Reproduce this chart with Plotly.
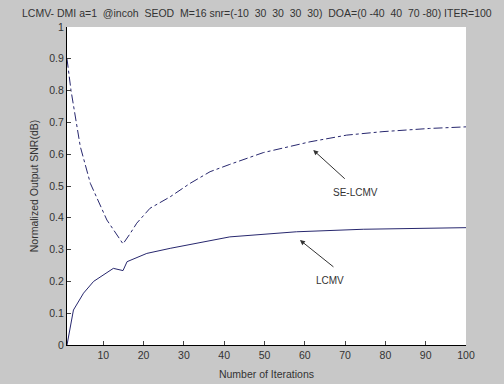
import plotly.graph_objects as go

# SE-LCMV curve (dash-dot)
se_x = [1, 2, 4.3, 6.8, 10.9, 14.9, 16.7, 18.3, 21.6, 26.6, 31.5, 36.5, 41.4, 49.7, 61.3, 70.4, 79.4, 91, 100]
se_y = [0.90, 0.80, 0.624, 0.508, 0.393, 0.318, 0.351, 0.383, 0.43, 0.466, 0.508, 0.545, 0.568, 0.605, 0.639, 0.66, 0.671, 0.681, 0.686]

# LCMV curve (solid)
lc_x = [1, 2.6, 5.1, 7.6, 12.5, 14.9, 15.9, 20.8, 26.6, 33.2, 41.4, 57.9, 74.5, 100]
lc_y = [0.0, 0.11, 0.163, 0.2, 0.241, 0.234, 0.262, 0.288, 0.304, 0.32, 0.34, 0.356, 0.364, 0.369]

x_ticks = [10, 20, 30, 40, 50, 60, 70, 80, 90, 100]
y_ticks = [0, 0.1, 0.2, 0.3, 0.4, 0.5, 0.6, 0.7, 0.8, 0.9, 1]
y_tick_text = ["0", "0.1", "0.2", "0.3", "0.4", "0.5", "0.6", "0.7", "0.8", "0.9", "1"]

title = "LCMV- DMI a=1  @incoh  SEOD  M=16 snr=(-10  30  30  30  30)  DOA=(0 -40  40  70 -80) ITER=100"

line_color = "#27276e"
txt = "#333333"
font = "Liberation Sans, Arial, sans-serif"

fig = go.Figure()
fig.add_trace(go.Scatter(x=se_x, y=se_y, mode="lines",
                         line=dict(color=line_color, width=1, dash="dashdot"),
                         showlegend=False))
fig.add_trace(go.Scatter(x=lc_x, y=lc_y, mode="lines",
                         line=dict(color=line_color, width=1),
                         showlegend=False))

fig.update_layout(
    width=504, height=384,
    margin=dict(l=67, r=38, t=27, b=39),
    paper_bgcolor="#c8c8c8",
    plot_bgcolor="white",
    font=dict(family=font, size=10, color=txt),
    xaxis=dict(range=[1, 100], tickvals=x_ticks, ticks="inside", ticklen=4,
               showgrid=False, zeroline=False, showline=True, linecolor="black",
               linewidth=1, automargin=False,
               title=dict(text="Number of Iterations", standoff=11, font=dict(size=10.5)),
               tickfont=dict(size=10.5)),
    yaxis=dict(range=[0, 1], tickvals=y_ticks, ticktext=y_tick_text, ticks="inside",
               ticklen=4, showgrid=False, zeroline=False, showline=True,
               linecolor="black", linewidth=1, automargin=False,
               title=dict(text="Normalized Output SNR(dB)", standoff=8, font=dict(size=10.5)),
               tickfont=dict(size=10.5)),
)

fig.add_annotation(text=title, xref="paper", yref="paper", x=-47 / 399, y=1.0,
                   yshift=14, xanchor="left", yanchor="middle", showarrow=False,
                   font=dict(size=10.5, color=txt))

# arrows
fig.add_annotation(x=62.1, y=0.613, ax=33, ay=30, text="", showarrow=True,
                   arrowhead=2, arrowsize=1, arrowwidth=1, arrowcolor="#333333")
fig.add_annotation(x=58.8, y=0.330, ax=35, ay=28, text="", showarrow=True,
                   arrowhead=2, arrowsize=1, arrowwidth=1, arrowcolor="#333333")
fig.add_annotation(x=72.5, y=0.481, text="SE-LCMV", showarrow=False,
                   font=dict(size=10, color=txt))
fig.add_annotation(x=66.2, y=0.204, text="LCMV", showarrow=False,
                   font=dict(size=10, color=txt))

fig.write_html("out.html")
